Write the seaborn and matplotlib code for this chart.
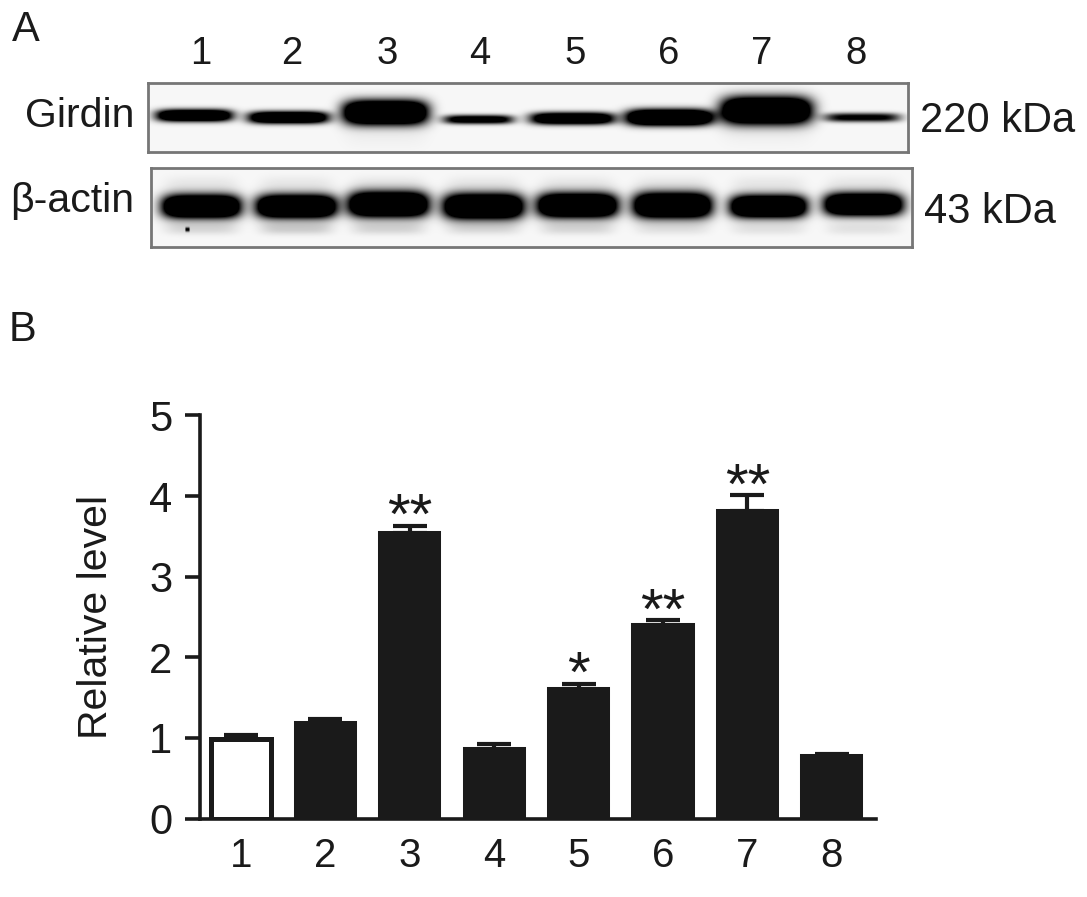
import numpy as np
import pandas as pd
import matplotlib
matplotlib.use("Agg")
import matplotlib.pyplot as plt
from matplotlib.colors import LinearSegmentedColormap
import seaborn as sns

# ---- chart data
lanes = ["1", "2", "3", "4", "5", "6", "7", "8"]
levels = [0.99, 1.18, 3.54, 0.86, 1.61, 2.40, 3.81, 0.77]
errors = [0.04, 0.05, 0.09, 0.06, 0.06, 0.06, 0.20, 0.03]
groups = ["control", "t", "t", "t", "t", "t", "t", "t"]
stars = ["", "", "**", "", "*", "**", "**", ""]

# ---- blot bands (pixels in the reference)
gir_x = [194, 288, 385, 478, 572, 669, 766, 862]
gir_w = [38, 40, 42, 35, 42, 43, 45, 38]
gir_y = [115, 117, 112, 119, 118, 117, 110, 117]
gir_h = [6.0, 6.0, 12.0, 4.5, 6.0, 8.0, 13.5, 4.5]
gir_i = [0.85, 0.85, 1.0, 0.6, 0.8, 1.0, 1.0, 0.5]
act_x = [201, 296, 388, 483, 577, 672, 768, 863]
act_w = [39, 40, 40, 40, 40, 39, 38, 39]
act_y = [206, 206, 204, 206, 205, 205, 206, 204]
act_h = [11.5, 11.5, 12.5, 12.5, 12.0, 12.5, 11.0, 11.0]
smudge_i = [0.13, 0.17, 0.14, 0.12, 0.13, 0.09, 0.09, 0.09]

W, H = 1087, 897
BG = "#f7f7f7"
DARK = "#1a1a1a"
FONT = ["Liberation Sans", "DejaVu Sans"]

sns.set_theme(style="ticks")
plt.rcParams["font.family"] = FONT
plt.rcParams["text.color"] = DARK

fig = plt.figure(figsize=(W / 100, H / 100), dpi=100, facecolor="white")
blot_cmap = LinearSegmentedColormap.from_list("blot", [BG, "#000000"])


def axes_px(x0, y0, x1, y1):
    return fig.add_axes([x0 / W, 1 - y1 / H, (x1 - x0) / W, (y1 - y0) / H])


def blob(X, Y, cx, cy, hw, hh):
    u = np.abs((X - cx) / hw)
    v = np.abs((Y - cy) / hh)
    return np.exp(-(u ** 5)) * np.exp(-(v ** 2.4))


def blot(x0, y0, x1, y1, bands, extra=None):
    ax = axes_px(x0, y0, x1, y1)
    xs = np.arange(x0, x1)
    ys = np.arange(y0, y1)
    X, Y = np.meshgrid(xs, ys)
    img = np.zeros_like(X, dtype=float)
    for cx, cy, hw, hh, amp in bands:
        img += amp * 2.2 * blob(X, Y, cx, cy, hw, hh)
    if extra is not None:
        img += extra(X, Y)
    img = np.clip(img, 0, 1)
    sns.heatmap(img, ax=ax, cmap=blot_cmap, vmin=0, vmax=1, cbar=False,
                xticklabels=False, yticklabels=False, rasterized=True)
    for s in ax.spines.values():
        s.set_visible(True)
        s.set_color("#767676")
        s.set_linewidth(2.0)
    return ax


def gir_haze(X, Y):
    out = np.zeros_like(X, dtype=float)
    for i in (2, 6):
        out += 0.04 * blob(X, Y, gir_x[i], gir_y[i] + 16, gir_w[i], 18)
    return out


def act_haze(X, Y):
    out = np.zeros_like(X, dtype=float)
    for i, cx in enumerate(act_x):
        out += smudge_i[i] * blob(X, Y, cx, 228, 36, 6)
        out += 0.07 * blob(X, Y, cx, 186, 36, 10)
    out += 0.9 * blob(X, Y, 187, 229, 2.2, 2.2)
    return out


blot(148, 83, 908, 152,
     list(zip(gir_x, gir_y, gir_w, gir_h, gir_i)), gir_haze)
blot(151, 168, 912, 247,
     list(zip(act_x, act_y, act_w, act_h, [1] * 8)), act_haze)


def txt(x, y, s, size, **kw):
    kw.setdefault("ha", "center")
    kw.setdefault("va", "center")
    fig.text(x / W, 1 - y / H, s, fontsize=size, **kw)


txt(26, 30, "A", 30)
txt(23, 330, "B", 30)
for cx, s in zip([201, 292, 387, 480, 575, 669, 762, 856], lanes):
    txt(cx, 54, s, 27.5)
txt(80, 116, "Girdin", 29.5)
txt(72, 201, "\u03b2-actin", 29.5)
txt(998, 121, "220 kDa", 30)
txt(990, 212, "43 kDa", 30)

# ---- bar chart
x_left = (200 - 241) / 84.4
x_right = (876 - 241) / 84.4
ax = axes_px(200, 415.5, 876, 818.5)
df = pd.DataFrame({"lane": lanes, "level": levels, "group": groups})
sns.barplot(data=df, x="lane", y="level", hue="group", dodge=False, ax=ax,
            palette={"control": "white", "t": DARK}, width=0.70,
            edgecolor=DARK, linewidth=2.9, legend=False, errorbar=None)
for p in ax.patches:
    if p.get_facecolor()[0] > 0.9:
        p.set_linewidth(3.6)
ax.errorbar(range(len(lanes)), levels, yerr=[[0] * 8, errors], fmt="none",
            ecolor=DARK, elinewidth=3, capsize=12, capthick=3, zorder=5)
for i, (v, e, s) in enumerate(zip(levels, errors, stars)):
    if s:
        ax.annotate(s, (i, v + e), xytext=(0, -6), textcoords="offset points",
                    ha="center", va="baseline", fontsize=42, color=DARK,
                    annotation_clip=False)

ax.set_xlim(x_left, x_right)
ax.set_ylim(0, 5)
ax.set_yticks(range(6))
ax.set_xlabel("")
ax.set_ylabel("")
ax.tick_params(axis="y", length=11, width=2.6, pad=9, labelsize=30,
               color=DARK, labelcolor=DARK)
ax.tick_params(axis="x", length=0, pad=13, labelsize=29, labelcolor=DARK)
sns.despine(ax=ax)
for s in ("left", "bottom"):
    ax.spines[s].set_linewidth(2.6)
    ax.spines[s].set_color(DARK)
txt(96, 617, "Relative level", 29.5, rotation=90)

fig.savefig("out.png", dpi=100, facecolor="white")
